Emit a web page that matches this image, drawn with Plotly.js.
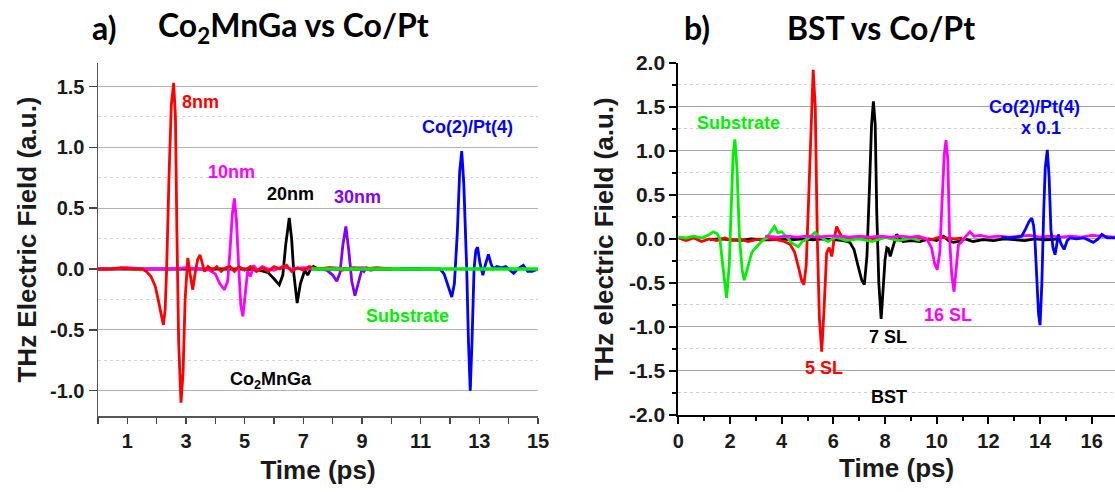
<!DOCTYPE html>
<html>
<head>
<meta charset="utf-8">
<script src="https://cdn.plot.ly/plotly-3.0.1.min.js"></script>
<style>html,body{margin:0;padding:0;background:#fff;}#chart{width:1115px;height:492px;}</style>
</head>
<body>
<div id="chart"></div>
<script>
// ---------- Panel a) Co2MnGa vs Co/Pt ----------
const tA8 = [0,0.4,0.8,1.2,1.5,1.65,1.8,1.95,2.05,2.15,2.23,2.29,2.34,2.42,2.5,2.58,2.64,2.69,2.75,2.83,2.9,2.97,3.06,3.14,3.23,3.32,3.4,3.48,3.56,3.63,3.75,3.9,4.05,4.2,4.35,4.5,4.65,4.8,5.0,5.2,5.4,5.6,5.8,6.0,6.2,6.43,6.6,6.8,7.0,7.2,7.5,7.9,8.3,8.7,9.1,9.5,10];
const eA8 = [0,0,0.01,0,0,-0.02,-0.06,-0.14,-0.25,-0.38,-0.46,-0.33,0,0.75,1.35,1.53,1.25,0.3,-0.6,-1.10,-0.85,-0.25,0.09,-0.04,-0.17,-0.02,0.08,0.115,0.04,-0.02,0.02,-0.01,0.02,-0.02,0.01,0.02,-0.02,0.02,-0.01,0.02,-0.02,0.01,-0.02,0.02,0.0,0.03,-0.02,0.01,-0.01,0.02,0.0,0.01,-0.01,0.01,0,0.01,0];

const tA10 = [0,0.5,1.0,1.5,2.0,2.5,3.0,3.5,3.8,4.0,4.15,4.31,4.42,4.5,4.58,4.65,4.72,4.8,4.87,4.94,5.02,5.1,5.2,5.3,5.45,5.6,5.8,6.0,6.3,6.6,7.0,7.5,8.0,8.5,9.0,9.5,10];
const eA10 = [0,0,0.01,0,0,0,0.01,0,-0.01,-0.04,-0.12,-0.17,-0.1,0.15,0.45,0.58,0.4,0.0,-0.3,-0.39,-0.2,-0.02,-0.06,0.03,-0.01,0.02,0,-0.01,0.02,0,0.01,0,0.01,0,0.01,0,0];

const tA20 = [0,1,2,3,4,5,5.5,5.8,6.0,6.18,6.3,6.4,6.52,6.6,6.68,6.79,6.9,7.05,7.15,7.25,7.34,7.5,8,9,10];
const eA20 = [0,0,0,0,0,0,-0.01,-0.03,-0.08,-0.13,-0.05,0.2,0.42,0.25,-0.05,-0.28,-0.12,-0.01,-0.05,0.0,0.02,0,0,0,0];

const tA30 = [7.0,7.5,7.8,8.0,8.14,8.25,8.35,8.45,8.55,8.65,8.76,8.88,9.0,9.07,9.15,9.3,9.5,10,10.5,11];
const eA30 = [0,0,-0.01,-0.05,-0.10,-0.03,0.2,0.35,0.15,-0.1,-0.22,-0.1,0.0,-0.02,0.01,-0.01,0,0,0,0];

const tACoPt = [10.3,11.0,11.5,11.66,11.8,11.95,12.06,12.15,12.25,12.33,12.40,12.47,12.57,12.63,12.69,12.75,12.82,12.88,12.94,13.02,13.12,13.2,13.31,13.4,13.48,13.6,13.75,13.9,14.05,14.17,14.3,14.5,14.65,14.8,15.0];
const eACoPt = [0,0,0,0,-0.04,-0.15,-0.23,-0.12,0.3,0.8,0.97,0.7,0.0,-0.6,-1.0,-0.6,0.0,0.15,0.18,0.05,-0.05,0.03,0.12,0.04,0.0,0.02,0.01,0.02,-0.01,-0.035,0.0,0.03,-0.02,-0.02,0.0];

const tASub = [7.28,8,9,10,11,12,13,14,15];
const eASub = [0,0,0,0,0,0,0,0,0];

// ---------- Panel b) BST vs Co/Pt ----------
const tBSub = [0,0.3,0.6,0.9,1.15,1.35,1.5,1.61,1.72,1.87,1.97,2.05,2.12,2.19,2.27,2.37,2.47,2.55,2.7,2.85,3.03,3.25,3.42,3.6,3.72,3.85,4.0,4.2,4.4,4.64,4.8,5.0,5.29,5.5,5.8,6.1,6.5,7.0,7.5,8.0,8.5,9.0,9.35];
const eBSub = [0.02,0.01,0.03,0.01,0.04,0.08,0.06,0.0,-0.3,-0.67,-0.3,0.4,0.95,1.13,0.8,0.0,-0.35,-0.47,-0.3,-0.15,-0.09,-0.02,0.01,0.08,0.14,0.07,0.08,0.02,-0.05,-0.09,-0.03,0.0,0.07,0.02,-0.03,0.02,-0.02,0.0,-0.03,0.02,-0.02,0.01,-0.02];

const tB5 = [0,0.3,0.6,0.9,1.2,1.5,1.8,2.1,2.4,2.7,3.0,3.4,3.8,4.1,4.32,4.5,4.65,4.78,4.86,4.95,5.05,5.15,5.22,5.3,5.38,5.46,5.55,5.64,5.74,5.84,5.94,6.03,6.13,6.22,6.32,6.5,6.7,6.9,7.1,7.4,7.7,8.0,8.3,8.6,8.9,9.2,9.5,9.8,10.1,10.4,10.7,11.0];
const eB5 = [0.01,-0.02,0.01,-0.03,0.0,-0.02,0.01,-0.02,0.0,-0.03,-0.01,0.0,-0.01,-0.03,-0.06,-0.15,-0.32,-0.48,-0.52,-0.3,0.5,1.5,1.92,1.5,0.0,-0.9,-1.28,-0.8,-0.16,-0.1,-0.2,0.0,0.14,0.08,0.03,0.02,0.01,0.02,0.0,0.01,-0.01,0.02,0.0,-0.02,0.0,0.02,0.0,-0.01,0.02,0.01,0.0,0.01];

const tB7 = [1.23,1.6,2.0,2.4,2.8,3.2,3.6,4.0,4.4,4.8,5.2,5.6,6.0,6.4,6.64,6.8,6.95,7.1,7.2,7.3,7.4,7.48,7.55,7.62,7.68,7.76,7.85,7.93,8.0,8.07,8.13,8.2,8.32,8.45,8.7,9.0,9.35,9.7,10.0,10.26,10.45,10.64,10.85,11.1,11.4,11.8,12.2,12.6,13.0,13.4,13.8,14.2,14.8];
const eB7 = [-0.01,0.0,-0.01,-0.02,0.0,-0.01,-0.01,0.0,-0.01,0.0,-0.01,0.0,-0.01,-0.02,-0.04,-0.12,-0.3,-0.47,-0.52,-0.2,0.6,1.3,1.56,1.3,0.3,-0.5,-0.91,-0.6,-0.24,-0.1,-0.11,-0.2,-0.09,0.05,-0.03,-0.02,-0.03,0.0,-0.02,0.03,-0.02,-0.04,-0.03,0.0,-0.03,-0.01,-0.02,0.0,-0.01,-0.02,0.0,-0.01,0.0];

const tB16 = [3.36,3.8,4.2,4.6,5.0,5.4,5.8,6.2,6.6,7.0,7.4,7.8,8.2,8.6,9.0,9.3,9.61,9.8,9.92,10.02,10.12,10.22,10.29,10.36,10.43,10.5,10.58,10.67,10.76,10.84,10.95,11.1,11.29,11.45,11.7,12.0,12.4,12.8,13.2,13.6,14.0,14.4,14.8,15.2,15.6,16.0,16.4,16.9];
const eB16 = [0.03,0.02,0.03,0.02,0.03,0.02,0.03,0.03,0.02,0.03,0.02,0.03,0.02,0.03,0.02,0.03,0.0,-0.1,-0.28,-0.35,-0.15,0.5,0.95,1.12,0.9,0.0,-0.4,-0.6,-0.3,-0.07,-0.04,0.02,0.08,0.03,0.04,0.02,0.03,0.02,0.03,0.04,0.02,0.03,0.02,0.03,0.02,0.04,0.03,0.02];

const tBCoPt = [12.5,12.8,13.1,13.29,13.45,13.58,13.68,13.75,13.80,13.87,13.94,14.0,14.07,14.14,14.2,14.28,14.35,14.42,14.5,14.58,14.65,14.71,14.8,14.93,15.05,15.16,15.4,15.7,16.06,16.25,16.39,16.6,16.9];
const eBCoPt = [0.02,0.01,0.02,0.03,0.12,0.2,0.235,0.15,0.0,-0.4,-0.85,-0.98,-0.5,0.3,0.8,1.01,0.7,0.1,-0.1,-0.18,-0.05,0.05,-0.05,-0.12,-0.02,0.01,0.0,0.01,-0.04,0.0,0.05,0.01,0.01];

// ---------- ticks ----------
const aXTicks = [1,3,5,7,9,11,13,15];
const aXLabels = ['1','3','5','7','9','11','13','15'];
const aYTicks = [-1,-0.5,0,0.5,1,1.5];
const aYLabels = ['-1.0','-0.5','0.0','0.5','1.0','1.5'];
const bXTicks = [0,2,4,6,8,10,12,14,16];
const bXLabels = ['0','2','4','6','8','10','12','14','16'];
const bYTicks = [-2,-1.5,-1,-0.5,0,0.5,1,1.5,2];
const bYLabels = ['-2.0','-1.5','-1.0','-0.5','0.0','0.5','1.0','1.5','2.0'];

// ---------- labels ----------
const aLabelText = ['8nm','10nm','20nm','30nm','Co(2)/Pt(4)','Substrate','Co<sub>2</sub>MnGa'];
const aLabelX = [3.50,4.55,6.57,8.85,12.60,10.55,5.89];
const aLabelY = [1.37,0.80,0.62,0.595,1.17,-0.39,-0.92];
const aLabelColor = ['#ff0000','#ff00ff','#000000','#7f00ff','#0000ff','#00ee00','#000000'];
const bLabelText = ['Substrate','5 SL','7 SL','16 SL','Co(2)/Pt(4)','x 0.1','BST'];
const bLabelX = [2.32,5.63,8.13,10.45,13.77,14.04,8.15];
const bLabelY = [1.31,-1.47,-1.12,-0.86,1.50,1.26,-1.79];
const bLabelColor = ['#00ee00','#ff0000','#000000','#ff00ff','#0000ff','#0000ff','#000000'];

const W = 2.8;
function tr(x, y, color, xa, ya, w) {
  return {x: x, y: y, type: 'scatter', mode: 'lines', xaxis: xa, yaxis: ya,
          line: {color: color, width: w || W}, hoverinfo: 'skip'};
}
const data = [
  tr(tA20, eA20, '#000000', 'x', 'y'),
  tr(tA30, eA30, '#7f00ff', 'x', 'y'),
  tr(tA10, eA10, '#ff00ff', 'x', 'y'),
  tr(tACoPt, eACoPt, '#0000ff', 'x', 'y'),
  tr(tA8, eA8, '#ff0000', 'x', 'y'),
  tr(tASub, eASub, '#00ee00', 'x', 'y', 3.4),
  tr(tB7, eB7, '#000000', 'x2', 'y2'),
  tr(tB5, eB5, '#ff0000', 'x2', 'y2'),
  tr(tBSub, eBSub, '#00ee00', 'x2', 'y2'),
  tr(tB16, eB16, '#ff00ff', 'x2', 'y2'),
  tr(tBCoPt, eBCoPt, '#0000ff', 'x2', 'y2')
];

const FAM = 'Liberation Sans, Arial, sans-serif';
const tickFont = {family: FAM, size: 20, color: '#1a1a1a', weight: 'bold'};
const titleFont = {family: FAM, size: 26, color: '#1a1a1a', weight: 'bold'};
const annFont = {family: FAM, size: 18, weight: 'bold'};

const annotations = [];
aLabelText.forEach((t, i) => annotations.push({xref: 'x', yref: 'y', x: aLabelX[i], y: aLabelY[i], text: t,
  showarrow: false, xanchor: 'center', yanchor: 'middle', font: Object.assign({}, annFont, {color: aLabelColor[i]})}));
bLabelText.forEach((t, i) => annotations.push({xref: 'x2', yref: 'y2', x: bLabelX[i], y: bLabelY[i], text: t,
  showarrow: false, xanchor: 'center', yanchor: 'middle', font: Object.assign({}, annFont, {color: bLabelColor[i]})}));
const headFont = {family: 'Lato, Open Sans, sans-serif', size: 32, color: '#000', weight: 'bold'};
annotations.push({xref: 'paper', yref: 'paper', x: 104/1115, y: 1 - 27/492, text: 'a)', showarrow: false, xanchor: 'center', yanchor: 'middle', font: headFont});
annotations.push({xref: 'paper', yref: 'paper', x: 293/1115, y: 1 - 27/492, text: 'Co<sub>2</sub>MnGa vs Co/Pt', showarrow: false, xanchor: 'center', yanchor: 'middle', font: headFont});
annotations.push({xref: 'paper', yref: 'paper', x: 697/1115, y: 1 - 27/492, text: 'b)', showarrow: false, xanchor: 'center', yanchor: 'middle', font: headFont});
annotations.push({xref: 'paper', yref: 'paper', x: 881/1115, y: 1 - 27/492, text: 'BST vs Co/Pt', showarrow: false, xanchor: 'center', yanchor: 'middle', font: headFont});

const aDom = {x: [98/1115, 538/1115], y: [(492-416)/492, (492-63)/492]};
const bDom = {x: [678.3/1115, 1], y: [(492-415)/492, (492-62.7)/492]};
const aYRange = [-1.209, 1.694];
const bXRange = [0, 16.9];

const layout = {
  width: 1115, height: 492,
  margin: {l: 0, r: 0, t: 0, b: 0},
  paper_bgcolor: '#fff', plot_bgcolor: '#fff',
  showlegend: false,
  annotations: annotations,
  xaxis: {domain: aDom.x, anchor: 'y', range: [0, 15], tickmode: 'array', tickvals: aXTicks, ticktext: aXLabels,
    ticks: 'outside', ticklen: 6, tickwidth: 1.5, tickcolor: '#444', showline: true, linecolor: '#555', linewidth: 1.5,
    showgrid: false, zeroline: false, tickfont: tickFont,
    minor: {tickmode: 'linear', tick0: 0, dtick: 1, ticks: 'outside', ticklen: 6, tickwidth: 1.5, tickcolor: '#444', showgrid: false},
    title: {text: 'Time (ps)', font: titleFont, standoff: 10}},
  yaxis: {domain: aDom.y, anchor: 'x', range: aYRange, tickmode: 'array', tickvals: aYTicks, ticktext: aYLabels,
    ticks: 'outside', ticklen: 8, tickwidth: 1.5, tickcolor: '#444', showline: true, linecolor: '#555', linewidth: 1.5,
    showgrid: true, gridcolor: '#b4b4b4', gridwidth: 1, zeroline: false, tickfont: tickFont,
    minor: {tickmode: 'linear', tick0: 0, dtick: 0.25, showgrid: true, gridcolor: '#d4d4d4', griddash: 'dot', gridwidth: 1, ticks: ''},
    title: {text: 'THz Electric Field (a.u.)', font: titleFont, standoff: 6}},
  xaxis3: {overlaying: 'x', anchor: 'y', side: 'top', range: [0, 15], tickmode: 'linear', tick0: 0, dtick: 1,
    ticks: 'inside', ticklen: 5, tickwidth: 1.5, tickcolor: '#444', showticklabels: false, showline: true,
    linecolor: '#555', linewidth: 1.5, showgrid: false, zeroline: false},
  yaxis3: {overlaying: 'y', anchor: 'x', side: 'right', range: aYRange, tickmode: 'linear', tick0: 0, dtick: 0.25,
    ticks: 'inside', ticklen: 5, tickwidth: 1.5, tickcolor: '#444', showticklabels: false, showline: true,
    linecolor: '#555', linewidth: 1.5, showgrid: false, zeroline: false},
  xaxis2: {domain: bDom.x, anchor: 'y2', range: bXRange, tickmode: 'array', tickvals: bXTicks, ticktext: bXLabels,
    ticks: 'outside', ticklen: 7, tickwidth: 2, tickcolor: '#000', showline: true, linecolor: '#000', linewidth: 2,
    showgrid: false, zeroline: false, tickfont: tickFont,
    minor: {tickmode: 'linear', tick0: 0, dtick: 1, ticks: 'outside', ticklen: 4, tickwidth: 2, tickcolor: '#000', showgrid: false},
    title: {text: 'Time (ps)', font: titleFont, standoff: 8}},
  yaxis2: {domain: bDom.y, anchor: 'x2', range: [-2, 2], tickmode: 'array', tickvals: bYTicks, ticktext: bYLabels,
    ticks: 'outside', ticklen: 7, tickwidth: 2, tickcolor: '#000', showline: true, linecolor: '#000', linewidth: 2,
    showgrid: true, gridcolor: '#a6a6a6', gridwidth: 1, zeroline: false, tickfont: Object.assign({}, tickFont, {size: 21}),
    minor: {tickmode: 'linear', tick0: 0, dtick: 0.25, ticks: 'outside', ticklen: 4, tickwidth: 2, tickcolor: '#000',
      showgrid: true, gridcolor: '#d0d0d0', griddash: 'dot', gridwidth: 1},
    title: {text: 'THz electric Field (a.u.)', font: titleFont, standoff: 8}},
  xaxis4: {overlaying: 'x2', anchor: 'y2', side: 'top', range: bXRange, tickmode: 'linear', tick0: 0, dtick: 1,
    ticks: 'inside', ticklen: 5, tickwidth: 2, tickcolor: '#000', showticklabels: false, showline: true,
    linecolor: '#000', linewidth: 2, showgrid: false, zeroline: false},
  yaxis4: {overlaying: 'y2', anchor: 'x2', side: 'right', range: [-2, 2], tickmode: 'linear', tick0: 0, dtick: 0.5,
    ticks: 'inside', ticklen: 5, tickwidth: 2, tickcolor: '#000', showticklabels: false, showline: false,
    showgrid: false, zeroline: false}
};

Plotly.newPlot('chart', data, layout, {staticPlot: true, displayModeBar: false});
</script>
</body>
</html>
